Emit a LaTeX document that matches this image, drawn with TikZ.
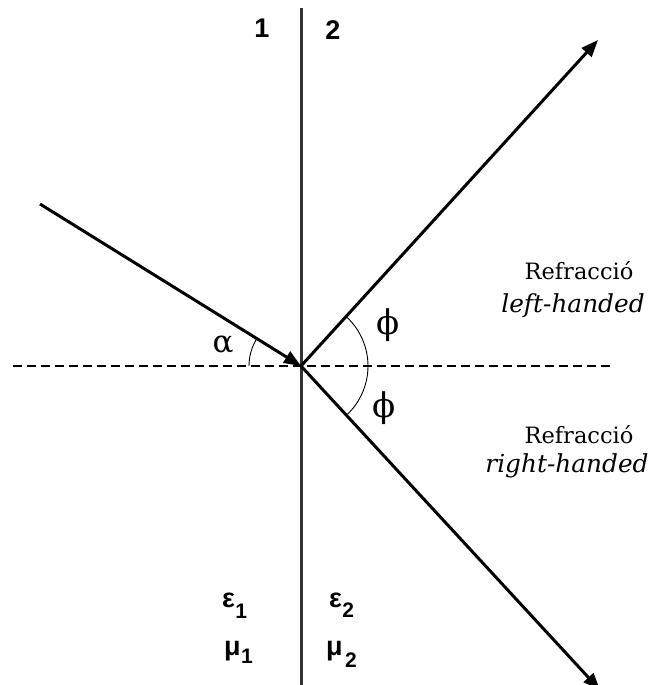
\documentclass[tikz,border=0pt]{standalone}
\usepackage{fontspec}
\setmainfont{DejaVu Serif}
\newfontfamily\lsb{Liberation Sans Bold}
\usetikzlibrary{arrows.meta,calc}
\tikzset{
  axisline/.style={line width=3pt, draw=black!80},
  dashline/.style={line width=1.8pt, dash pattern=on 9pt off 5pt},
  ray/.style={line width=3pt, -{Triangle[length=17pt,width=13pt]}},
  anglearc/.style={line width=0.9pt},
  medium/.style={font=\lsb\fontsize{27}{27}\selectfont, inner sep=0pt},
  subs/.style={font=\lsb\fontsize{21}{21}\selectfont, inner sep=0pt, anchor=base west},
  greek/.style={font=\fontsize{31}{31}\selectfont, inner sep=0pt},
  refr/.style={font=\fontsize{22.5}{27}\selectfont, align=center, inner sep=0pt, anchor=base},
  refri/.style={font=\itshape\fontsize{24.8}{27}\selectfont, align=center, inner sep=0pt, anchor=base},
}
\begin{document}
\begin{tikzpicture}[x=1pt,y=-1pt]
\useasboundingbox[fill=white] (0,0) rectangle (653,685);
\coordinate (O) at (301,366);
\coordinate (top) at (301,8);
\coordinate (bot) at (301,690);
\coordinate (S) at (40,204);
\coordinate (U) at (598,40);
\coordinate (D) at (600,690);
\coordinate (DL) at (13,366);
\coordinate (DR) at (610,366);
\draw[axisline] (top) -- (bot);
\draw[dashline] (DL) -- (DR);
\draw[ray] (S) -- (O);
\draw[ray] (O) -- (U);
\draw[ray] (O) -- (D);
\draw[anglearc] ($(O)+(180:52pt)$) arc[start angle=180, end angle=148.2, radius=52pt];
\draw[anglearc] ($(O)+(47.5:67pt)$) arc[start angle=47.5, end angle=-47.3, radius=67pt];
\node[greek] (alpha) at (223,345) {α};
\node[greek, font=\fontsize{34}{34}\selectfont] (phiu) at (388,325) {ϕ};
\node[greek, font=\fontsize{34}{34}\selectfont] (phid) at (384,408) {ϕ};
\node[medium] (one) at (262,28) {1};
\node[medium] (two) at (333,30) {2};
\node[medium, anchor=base west] (e1) at (222,607) {ε};
\node[subs] (e1s) at (e1.base east) [yshift=-11pt] {1};
\node[medium, anchor=base west] (m1) at (224,655) {μ};
\node[subs] (m1s) at (m1.base east) [yshift=-8pt] {1};
\node[medium, anchor=base west] (e2) at (329,607) {ε};
\node[subs] (e2s) at (e2.base east) [yshift=-10pt] {2};
\node[medium, anchor=base west] (m2) at (326,655) {μ};
\node[subs] (m2s) at (m2.base east) [xshift=2pt, yshift=-12pt] {2};
\node[refr] (lh) at (579,279) {Refracció};
\node[refri] (lh2) at (573,312) {left-handed};
\node[refr] (rh) at (579,443) {Refracció};
\node[refri] (rh2) at (567,472) {right-handed};
\end{tikzpicture}
\end{document}
